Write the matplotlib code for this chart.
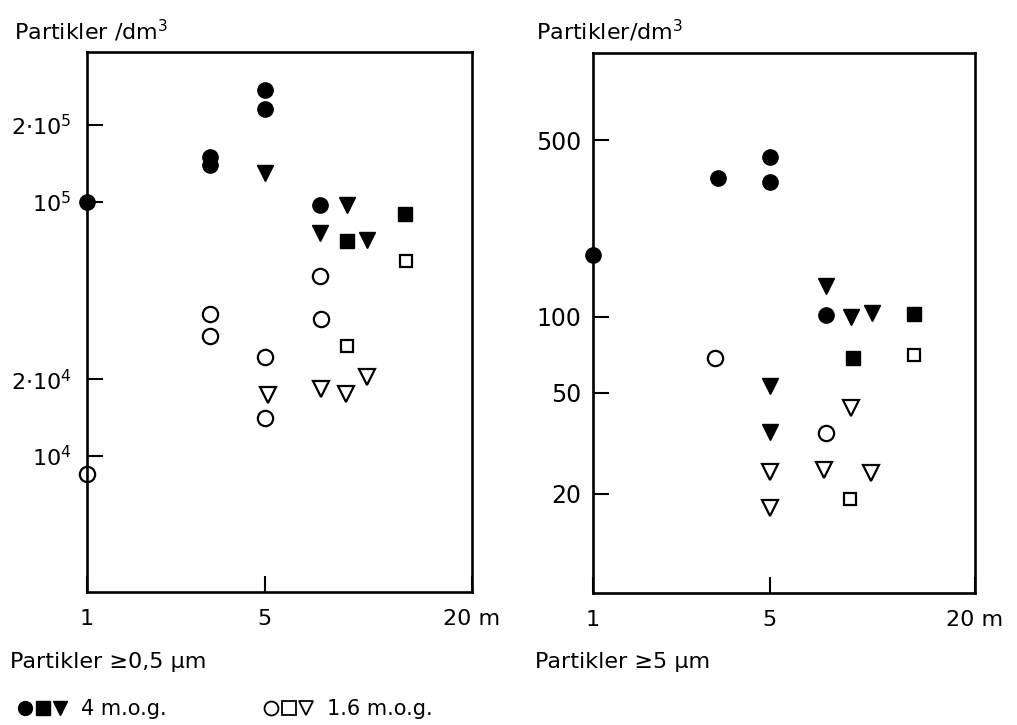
import matplotlib
matplotlib.use("Agg")
import matplotlib.pyplot as plt
from matplotlib.lines import Line2D
from matplotlib.legend_handler import HandlerTuple

plt.rcParams['font.family'] = ['DejaVu Sans']
plt.rcParams['mathtext.fontset'] = 'custom'
plt.rcParams['mathtext.rm'] = 'DejaVu Sans'

# distance (m) and particles per dm3, particles >= 0.5 um
fine_4m_circle_x = [1, 3.2, 3.2, 5, 5, 7.5]
fine_4m_circle_y = [1.0e5, 1.50e5, 1.39e5, 2.74e5, 2.32e5, 0.97e5]
fine_4m_square_x = [13.3, 9.1]
fine_4m_square_y = [0.895e5, 0.70e5]
fine_4m_tri_x = [5, 9.1, 7.5, 10.4]
fine_4m_tri_y = [1.29e5, 0.97e5, 0.75e5, 0.707e5]

fine_16m_circle_x = [1, 3.2, 3.2, 5, 5, 7.5, 7.6]
fine_16m_circle_y = [8450, 36000, 29600, 24500, 14000, 51100, 34500]
fine_16m_square_x = [13.4, 9.1]
fine_16m_square_y = [58400, 27100]
fine_16m_tri_x = [5.1, 7.6, 9.0, 10.4]
fine_16m_tri_y = [17300, 18300, 17500, 20400]

# particles >= 5 um
coarse_4m_circle_x = [1, 3.3, 5, 5, 7.6]
coarse_4m_circle_y = [175, 354, 429, 342, 102]
coarse_4m_square_x = [13.8, 9.2]
coarse_4m_square_y = [102.5, 68.9]
coarse_4m_tri_x = [7.6, 9.1, 10.5, 5, 5]
coarse_4m_tri_y = [133, 100, 104, 53.3, 35.2]

coarse_16m_circle_x = [3.2, 7.6]
coarse_16m_circle_y = [68.5, 34.6]
coarse_16m_square_x = [13.8, 9.0]
coarse_16m_square_y = [70.4, 19.0]
coarse_16m_tri_x = [9.1, 5, 7.5, 10.4, 5]
coarse_16m_tri_y = [43.8, 24.3, 24.8, 24.2, 17.5]

x_ticks = [1, 5, 20]
x_ticklabels = ['1', '5', '20 m']
fine_yticks = [1e4, 2e4, 1e5, 2e5]
fine_yticklabels = [r'$\mathregular{10^4}$', r'$\mathregular{2{\cdot}10^4}$',
                    r'$\mathregular{10^5}$', r'$\mathregular{2{\cdot}10^5}$']
coarse_yticks = [20, 50, 100, 500]
coarse_yticklabels = ['20', '50', '100', '500']


def fwd(x):
    return x ** 0.2


def inv(x):
    return x ** 5


fig = plt.figure(figsize=(10.17, 7.25), dpi=100)
ax1 = fig.add_axes([0.0853, 0.1834, 0.3786, 0.745])
ax2 = fig.add_axes([0.5828, 0.1817, 0.3759, 0.745])


def style(ax, yticks, yticklabels, ylim, ypad, ysize):
    ax.set_xscale('function', functions=(fwd, inv))
    ax.set_yscale('log')
    ax.set_xlim(1, 20)
    ax.set_ylim(*ylim)
    ax.set_xticks(x_ticks)
    ax.set_xticklabels(x_ticklabels)
    ax.set_yticks(yticks)
    ax.set_yticklabels(yticklabels)
    ax.minorticks_off()
    ax.tick_params(axis='both', direction='in', length=11.5, width=1.5, colors='black')
    ax.tick_params(axis='y', labelsize=ysize, pad=ypad)
    ax.tick_params(axis='x', labelsize=16, pad=12)
    for s in ax.spines.values():
        s.set_linewidth(1.9)
    ax.set_zorder(1)


def draw(ax, data):
    for (x, y, m, filled) in data:
        if filled:
            ax.plot(x, y, linestyle='none', marker=m, markersize=11 if m != 's' else 10,
                    color='black', clip_on=False)
        else:
            ax.plot(x, y, linestyle='none', marker=m, markersize=11 if m != 's' else 9,
                    markerfacecolor='white', markeredgecolor='black',
                    markeredgewidth=1.6, clip_on=False)


draw(ax1, [
    (fine_4m_circle_x, fine_4m_circle_y, 'o', True),
    (fine_4m_square_x, fine_4m_square_y, 's', True),
    (fine_4m_tri_x, fine_4m_tri_y, 'v', True),
    (fine_16m_circle_x, fine_16m_circle_y, 'o', False),
    (fine_16m_square_x, fine_16m_square_y, 's', False),
    (fine_16m_tri_x, fine_16m_tri_y, 'v', False),
])
draw(ax2, [
    (coarse_4m_circle_x, coarse_4m_circle_y, 'o', True),
    (coarse_4m_square_x, coarse_4m_square_y, 's', True),
    (coarse_4m_tri_x, coarse_4m_tri_y, 'v', True),
    (coarse_16m_circle_x, coarse_16m_circle_y, 'o', False),
    (coarse_16m_square_x, coarse_16m_square_y, 's', False),
    (coarse_16m_tri_x, coarse_16m_tri_y, 'v', False),
])

style(ax1, fine_yticks, fine_yticklabels, (2904, 3.88e5), 11, 16)
style(ax2, coarse_yticks, coarse_yticklabels, (8.07, 1104), 8, 17)

fig.text(0.014, 0.945, r'Partikler /dm$\mathregular{^3}$', fontsize=16)
fig.text(0.527, 0.945, r'Partikler/dm$\mathregular{^3}$', fontsize=16)
fig.text(0.010, 0.078, 'Partikler ≥0,5 µm', fontsize=16)
fig.text(0.526, 0.078, 'Partikler ≥5 µm', fontsize=16)

filled_h = tuple(Line2D([], [], linestyle='none', marker=m, color='black', markersize=10)
                 for m in ['o', 's', 'v'])
open_h = tuple(Line2D([], [], linestyle='none', marker=m, markerfacecolor='white',
                      markeredgecolor='black', markeredgewidth=1.3, markersize=10)
               for m in ['o', 's', 'v'])
fig.legend([filled_h, open_h], ['4 m.o.g.', '1.6 m.o.g.'],
           handler_map={tuple: HandlerTuple(ndivide=None, pad=0.0)},
           loc='lower left', bbox_to_anchor=(-0.002, -0.018), ncol=2, frameon=False,
           fontsize=15, handlelength=2.5, handletextpad=0.6, columnspacing=4.6)

fig.savefig('out.png', dpi=100)
